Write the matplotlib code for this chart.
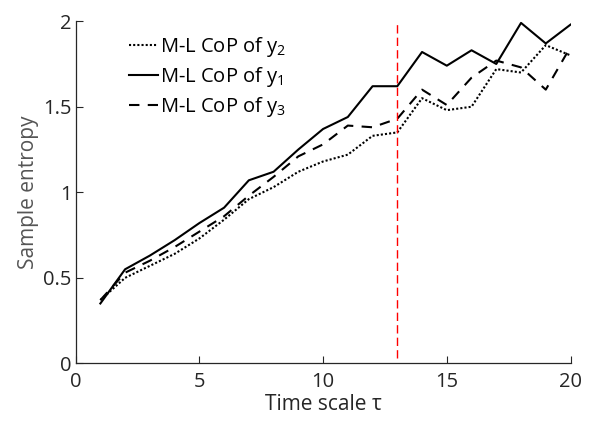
import matplotlib
matplotlib.use("Agg")
import matplotlib.pyplot as plt

# ---------------------------------------------------------------------------
# Data
# ---------------------------------------------------------------------------
scales = list(range(1, 21))

cop_y2 = [0.37, 0.50, 0.57, 0.64, 0.73, 0.84, 0.96, 1.03, 1.12, 1.18,
          1.22, 1.33, 1.35, 1.55, 1.48, 1.50, 1.72, 1.70, 1.86, 1.80]
cop_y1 = [0.35, 0.55, 0.63, 0.72, 0.82, 0.91, 1.07, 1.12, 1.25, 1.37,
          1.44, 1.62, 1.62, 1.82, 1.74, 1.83, 1.75, 1.99, 1.87, 1.98]
cop_y3 = [0.37, 0.53, 0.60, 0.68, 0.77, 0.86, 0.98, 1.09, 1.21, 1.28,
          1.39, 1.38, 1.43, 1.60, 1.51, 1.67, 1.77, 1.73, 1.60, 1.85]

labels = [r"M-L CoP of y$_2$", r"M-L CoP of y$_1$", r"M-L CoP of y$_3$"]

cut_scale = 13
cut_span = [0.03, 1.99]

xticks = [0, 5, 10, 15, 20]
yticks = [0, 0.5, 1, 1.5, 2]
yticklabels = ["0", "0.5", "1", "1.5", "2"]

# ---------------------------------------------------------------------------
plt.rcParams.update({
    "font.family": ["Open Sans", "DejaVu Sans"],
    "mathtext.fontset": "custom",
    "mathtext.rm": "Open Sans",
    "mathtext.it": "Open Sans",
    "xtick.direction": "in",
    "ytick.direction": "in",
    "xtick.color": "#262626",
    "ytick.color": "#262626",
})

fig = plt.figure(figsize=(6.05, 4.24), dpi=100)
ax = fig.add_axes([0.125, 0.143, 0.818, 0.807])

ax.plot(scales, cop_y2, color="black", lw=1.5, ls=(0, (1, 1)), label=labels[0])
ax.plot(scales, cop_y1, color="black", lw=1.5, ls="-", label=labels[1])
ax.plot(scales, cop_y3, color="black", lw=1.5, ls=(0, (5, 4)), label=labels[2])

# cut-off scale marker
ax.plot([cut_scale, cut_scale], cut_span, color="#ff0000", lw=1.0,
        ls=(0, (6, 3)))

ax.set_xlim(0, 20)
ax.set_ylim(0, 2)
ax.set_xticks(xticks)
ax.set_yticks(yticks)
ax.set_yticklabels(yticklabels)
ax.tick_params(labelsize=14.5, length=5, width=0.8, labelcolor="#262626")
ax.tick_params(axis="x", pad=6)
ax.tick_params(axis="y", pad=3)

for side in ("top", "right"):
    ax.spines[side].set_visible(False)
for side in ("left", "bottom"):
    ax.spines[side].set_color("#262626")
    ax.spines[side].set_linewidth(0.9)

ax.set_xlabel("Time scale τ", fontsize=15, color="#262626", labelpad=2)
ax.set_ylabel("Sample entropy", fontsize=15, color="#555555", labelpad=3)

ax.legend(loc="upper left", bbox_to_anchor=(0.08, 1.0), frameon=False,
          fontsize=14.5, handlelength=1.4, handletextpad=0.1,
          labelspacing=0.3, borderaxespad=0.3)

fig.savefig("out.png", dpi=100)
